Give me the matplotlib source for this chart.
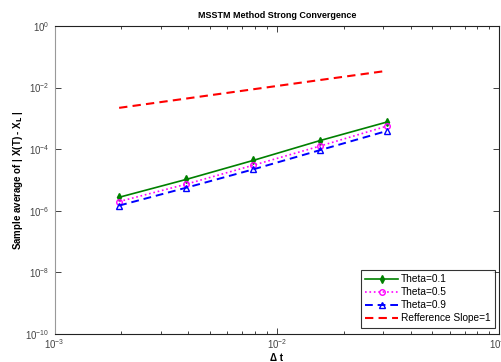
import matplotlib
matplotlib.use("Agg")
import matplotlib.pyplot as plt
from matplotlib.ticker import LogLocator, NullFormatter

plt.rcParams['font.family'] = ['Liberation Sans', 'DejaVu Sans']

dt = [2**-9, 2**-8, 2**-7, 2**-6, 2**-5]
err_01 = [2.75e-6, 1.04e-5, 4.3e-5, 1.9e-4, 7.6e-4]
err_05 = [2.0e-6, 7.3e-6, 3.0e-5, 1.26e-4, 5.6e-4]
err_09 = [1.48e-6, 5.6e-6, 2.2e-5, 9.3e-5, 3.9e-4]
ref = [2.2e-3, 4.4e-3, 8.8e-3, 1.76e-2, 3.5e-2]

fig = plt.figure(figsize=(5.02, 3.62), dpi=100)
ax = fig.add_axes([0.1086, 0.0773, 0.8855, 0.8509])

ax.loglog(dt, err_01, color='#008000', linestyle='-', marker='d', markersize=4,
          linewidth=1.2, label='Theta=0.1')
ax.loglog(dt, err_05, color='#ff00ff', linestyle=':', marker='o', markersize=4,
          markerfacecolor='none', linewidth=1.2, label='Theta=0.5')
ax.loglog(dt, err_09, color='#0000ff', linestyle='--', marker='^', markersize=5,
          markerfacecolor='none', linewidth=1.4, dashes=(4, 2.5), label='Theta=0.9')
ax.loglog(dt, ref, color='#ff0000', linestyle='--', linewidth=1.5,
          dashes=(4, 2.5), label='Refference Slope=1')

ax.set_xlim(1e-3, 1e-1)
ax.set_ylim(1e-10, 1e0)
ax.set_xticks([1e-3, 1e-2, 1e-1])
ax.xaxis.set_minor_locator(LogLocator(base=10, subs=range(2, 10)))
ax.xaxis.set_minor_formatter(NullFormatter())
ax.set_yticks([1e0, 1e-2, 1e-4, 1e-6, 1e-8, 1e-10])
ax.yaxis.set_minor_locator(LogLocator(base=10, subs=[]))

ax.tick_params(which='both', direction='in', top=True, right=True,
               labelsize=7, colors='#222222', labelcolor='#444444')
ax.tick_params(which='major', length=4, width=0.6)
ax.tick_params(which='minor', length=2, width=0.6)
ax.tick_params(axis='x', which='major', pad=2)
for s in ax.spines.values():
    s.set_linewidth(0.8)
    s.set_color('#222222')
ax.spines['left'].set_color('#999999')

ax.set_title('MSSTM Method Strong Convergence', fontsize=6.5, fontweight='bold', pad=6)
ax.set_xlabel('\u0394 t', fontsize=7, fontweight='bold', labelpad=2)
ax.set_ylabel('Sample average of | X(T) - X$_{\\mathbf{L}}$ |', fontsize=7, fontweight='bold', labelpad=0)

leg = ax.legend(loc='lower right', bbox_to_anchor=(0.991, 0.0195), fontsize=7.3,
                frameon=True, fancybox=False, edgecolor='black', borderaxespad=0,
                handlelength=3.2, labelspacing=0.3, borderpad=0.45, handletextpad=0.3)
leg.get_frame().set_linewidth(0.8)

fig.savefig('out.png', dpi=100)
